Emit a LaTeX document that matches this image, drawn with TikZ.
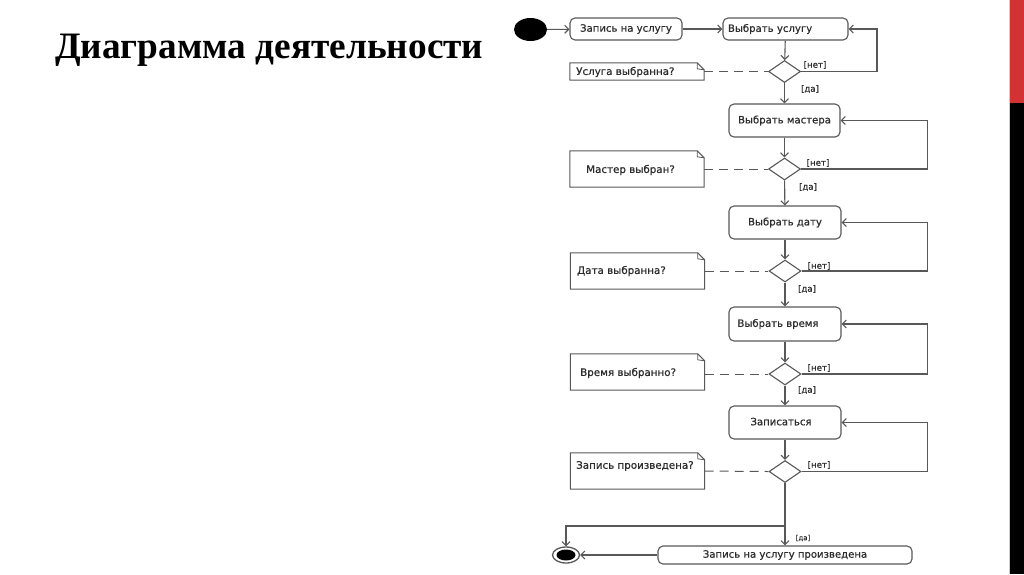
\documentclass[tikz,border=0pt]{standalone}
\usepackage{fontspec}
\setmainfont{Liberation Serif}
\newfontfamily\dsans[FakeBold=0.6]{DejaVu Sans}
\usetikzlibrary{arrows.meta,shapes.geometric}
\definecolor{ln}{RGB}{88,88,88}
\definecolor{txt}{RGB}{45,45,45}
\definecolor{barred}{RGB}{210,50,50}
\tikzset{
  lin/.style={draw=ln, line width=1.1pt},
  arr/.style={lin, -{Straight Barb[length=4pt,width=8pt]}},
  dsh/.style={draw=ln, line width=1pt, dash pattern=on 9pt off 6pt},
  act/.style={draw=ln, line width=1.1pt, rounded corners=5pt, inner sep=0pt,
    font=\dsans\fontsize{10.1}{11}\selectfont, text=txt},
  dec/.style={diamond, draw=ln, line width=1.1pt, minimum width=32pt, minimum height=22pt, inner sep=0pt, fill=white},
  notebox/.style={inner sep=0pt, minimum width=134pt},
  ntxt/.style={font=\dsans\fontsize{10.3}{11}\selectfont, text=txt, inner sep=0pt, anchor=west},
  glabel/.style={font=\dsans\fontsize{8.6}{10}\selectfont, text=txt, inner sep=0pt},
  startc/.style={ellipse, fill=black, minimum width=33pt, minimum height=23pt, inner sep=0pt},
  endc/.style={ellipse, draw=ln, line width=1.3pt, fill=white, minimum width=27pt, minimum height=16pt, inner sep=0pt,
    path picture={\fill[black] (path picture bounding box.center) ellipse (9.5pt and 5.5pt);}},
}
\newcommand\drawnote[1]{%
  \draw[lin, line width=1pt] (#1.north west) -- ([xshift=-7pt]#1.north east) -- ([yshift=-7pt]#1.north east) -- (#1.south east) -- (#1.south west) -- cycle;
  \draw[lin, line width=0.8pt] ([xshift=-7pt]#1.north east) -- ([xshift=-7pt,yshift=-6pt]#1.north east) -- ([yshift=-7pt]#1.north east);}
\begin{document}
\begin{tikzpicture}[x=1pt,y=-1pt]
\useasboundingbox (0,0) rectangle (1024,574);
\fill[white] (0,0) rectangle (1024,574);
% side bar
\fill[barred] (1010,0) rectangle (1024,103);
\fill[black] (1010,103) rectangle (1024,574);
\draw[gray!40, line width=0.6pt] (1009.5,0) -- (1009.5,574);
% title
\node[anchor=base west, inner sep=0pt, font=\bfseries\fontsize{37.3}{40}\selectfont] (title) at (55,58) {Диаграмма деятельности};

% nodes
\node[startc] (s) at (530.5,29.5) {};
\node[act, minimum width=112pt, minimum height=22pt] (b1) at (626,29) {Запись на услугу};
\node[act, minimum height=22pt, text width=115pt, inner xsep=5pt, align=left] (b2) at (785.5,29) {Выбрать услугу};
\node[dec] (d1) at (784.5,71.5) {};
\node[act, minimum width=111pt, minimum height=33pt] (b3) at (784.5,120.5) {Выбрать мастера};
\node[dec] (d2) at (784.5,169) {};
\node[act, minimum width=112pt, minimum height=33pt] (b4) at (785,222.5) {Выбрать дату};
\node[dec] (d3) at (785,271) {};
\node[act, minimum width=112pt, minimum height=34pt] (b5) at (785,324) {Выбрать время\hspace*{14pt}};
\node[dec] (d4) at (785,374) {};
\node[act, minimum width=112pt, minimum height=33pt] (b6) at (785,422.5) {\raisebox{2pt}{Записаться}\hspace*{8pt}};
\node[dec] (d5) at (785,471.5) {};
\node[act, minimum width=254pt, minimum height=18pt] (b7) at (785,555) {Запись на услугу произведена};
\node[endc] (e) at (566,555) {};

% notes
\node[notebox, minimum height=17pt] (n1) at (637,71.5) {};
\node[notebox, minimum height=36pt] (n2) at (637,169) {};
\node[notebox, minimum height=36pt] (n3) at (637.5,271) {};
\node[notebox, minimum height=36pt] (n4) at (637.5,372) {};
\node[notebox, minimum height=36pt] (n5) at (637.5,471) {};
\drawnote{n1}\drawnote{n2}\drawnote{n3}\drawnote{n4}\drawnote{n5}
\node[ntxt] (t1) at (576,72) {Услуга выбранна?};
\node[ntxt] (t2) at (586,170) {Мастер выбран?};
\node[ntxt] (t3) at (577,271) {Дата выбранна?};
\node[ntxt] (t4) at (580,373) {Время выбранно?};
\node[ntxt] (t5) at (576,466) {Запись произведена?};

% guard labels
\node[glabel] (g1n) at (815,65) {[нет]};
\node[glabel] (g1y) at (810,89) {[да]};
\node[glabel] (g2n) at (818,163) {[нет]};
\node[glabel] (g2y) at (808,187) {[да]};
\node[glabel] (g3n) at (819,266) {[нет]};
\node[glabel] (g3y) at (807,289) {[да]};
\node[glabel] (g4n) at (819,368) {[нет]};
\node[glabel] (g4y) at (807,390) {[да]};
\node[glabel] (g5n) at (819,465) {[нет]};
\node[glabel, font=\dsans\fontsize{7}{8}\selectfont] (g5y) at (803,538) {[да]};

% loop x positions
\coordinate (r1) at (877,0);
\coordinate (r2) at (927.5,0);
\coordinate (j) at (785,526);

% connectors
\draw[arr] (s) -- (b1);
\draw[arr] (b1) -- (b2);
\draw[arr] (b2) -- (d1);
\draw[arr] (d1.east) -- (d1.east -| r1) |- (b2.east);
\draw[arr] (d1) -- (b3);
\draw[arr] (b3) -- (d2);
\draw[arr] (d2.east) -- (d2.east -| r2) |- (b3.east);
\draw[arr] (d2) -- (b4);
\draw[arr] (b4) -- (d3);
\draw[arr] (d3.east) -- (d3.east -| r2) |- (b4.east);
\draw[arr] (d3) -- (b5);
\draw[arr] (b5) -- (d4);
\draw[arr] (d4.east) -- (d4.east -| r2) |- (b5.east);
\draw[arr] (d4) -- (b6);
\draw[arr] (b6) -- (d5);
\draw[arr] (d5.east) -- (d5.east -| r2) |- (b6.east);
\draw[arr] (d5) -- (b7);
\draw[arr] (j) -| (e.north);
\draw[arr] (b7.west) -- (e.east);

% dashed note links
\draw[dsh] (n1.east) -- (d1.west);
\draw[dsh] (n2.east) -- (d2.west);
\draw[dsh] (n3.east) -- (d3.west);
\draw[dsh] (n4.east |- d4.west) -- (d4.west);
\draw[dsh] (n5.east) -- (d5.west);
\end{tikzpicture}
\end{document}
